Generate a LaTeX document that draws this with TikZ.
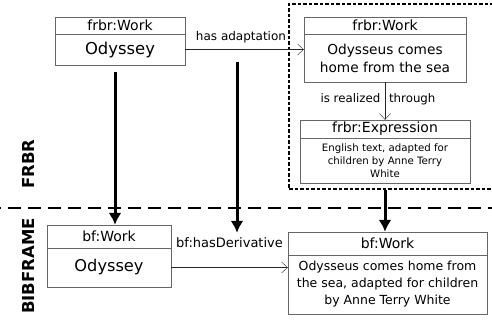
\documentclass[tikz,border=0pt]{standalone}
\usepackage{fontspec}
\setmainfont{DejaVu Sans}
\usetikzlibrary{arrows.meta}

\begin{document}
\begin{tikzpicture}[x=1pt,y=-1pt,
  hdr/.style={draw=gray!80!black,inner sep=0pt,font=\fontsize{14}{16}\selectfont},
  bodytext/.style={draw=gray!80!black,inner sep=0pt,align=center},
  grpbox/.style={draw,dash pattern=on 3.5pt off 2pt,line width=1.3pt,inner sep=0pt},
  rel/.style={-{Straight Barb[length=6pt,width=11pt]},black!85},
  map/.style={-{Latex[length=12pt,width=13pt]},line width=3pt},
  lbl/.style={inner sep=0pt}]
\useasboundingbox (0,0) rectangle (492,320);
% FRBR side
\node[hdr,minimum width=130pt,minimum height=17pt] (w1h) at (120,25.5) {frbr:Work};
\node[bodytext,minimum width=130pt,minimum height=31pt,font=\fontsize{16.4}{19}\selectfont] (w1) at (120,49.5) {Odyssey};
\node[grpbox,minimum width=216pt,minimum height=185pt] (grp) at (397,96.5) {};
\node[hdr,minimum width=162pt,minimum height=17pt] (w2h) at (385,25.5) {frbr:Work};
\node[bodytext,minimum width=162pt,minimum height=48pt,font=\fontsize{13.7}{18}\selectfont] (w2) at (385,58) {Odysseus comes\\home from the sea};
\node[hdr,minimum width=170pt,minimum height=18pt] (e2h) at (385,129) {frbr:Expression};
\node[bodytext,minimum width=170pt,minimum height=45pt,font=\fontsize{10.2}{13}\selectfont] (e2) at (385,160.5) {English text, adapted for\\children by Anne Terry\\White};
% BIBFRAME side
\node[hdr,minimum width=124pt,minimum height=23pt] (b1h) at (109,236.5) {bf:Work};
\node[bodytext,minimum width=124pt,minimum height=39pt,font=\fontsize{16.2}{19}\selectfont] (b1) at (109,267.5) {Odyssey};
\node[hdr,minimum width=199pt,minimum height=23pt] (b2h) at (387.5,243.5) {bf:Work};
\node[bodytext,minimum width=199pt,minimum height=59pt,font=\fontsize{12.5}{17}\selectfont] (b2) at (387.5,284.5) {Odysseus comes home from\\the sea, adapted for children\\by Anne Terry White};
% side labels
\node[rotate=90,font=\bfseries\fontsize{16.5}{18}\selectfont] (frbr) at (28,164) {FRBR};
\node[rotate=90,font=\bfseries\fontsize{16.5}{18}\selectfont] (bibframe) at (28,266) {BIBFRAME};
\draw[line width=1.6pt,dash pattern=on 13pt off 7pt,dash phase=-8pt] (0,208) -- (492,208);
% relations
\node[lbl,font=\fontsize{12}{14}\selectfont] (adaptlbl) at (241,37) {has adaptation};
\draw[rel] (w1.east) -- (w1.east -| w2.west);
\coordinate (adapt) at (237,50);
\node[lbl,font=\fontsize{11.8}{14}\selectfont] (realize) at (378,99) {is realized\hspace{5pt} through};
\draw[rel] (w2.south) -- (e2h.north);
\node[lbl,font=\fontsize{13}{15}\selectfont] (derivlbl) at (229.5,243) {bf:hasDerivative};
\draw[rel] (b1.east) -- (b1.east -| b2.west);
% mappings
\draw[map,shorten <=7pt] ([xshift=-5pt]w1.south) -- ([xshift=-5pt]w1.south |- b1h.north);
\draw[map,shorten <=12pt,shorten >=5pt] (adapt) -- (adapt |- derivlbl.north);
\draw[map] (e2.south |- grp.south) -- (e2.south |- b2h.north);
\end{tikzpicture}
\end{document}
